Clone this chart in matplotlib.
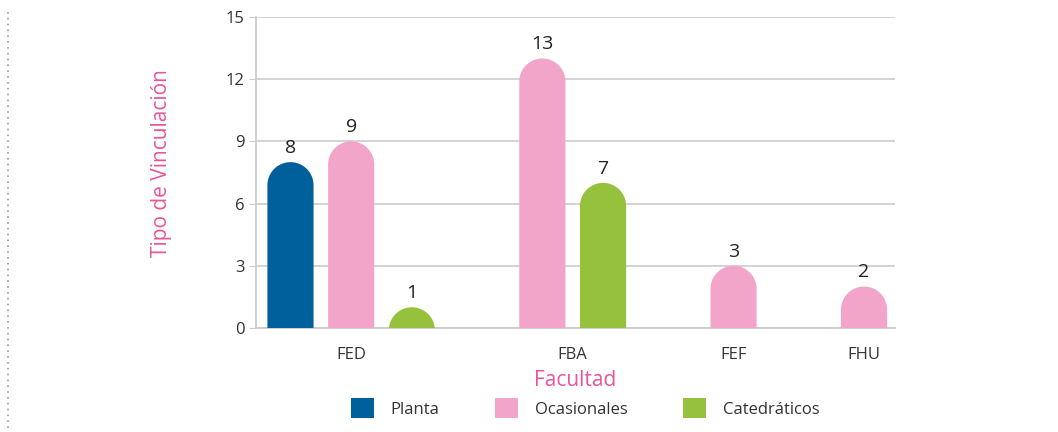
import matplotlib
matplotlib.use('Agg')
import matplotlib.pyplot as plt
import numpy as np
from matplotlib.patches import PathPatch, Patch
from matplotlib.path import Path
from matplotlib.lines import Line2D

plt.rcParams['font.family'] = ['Open Sans', 'DejaVu Sans']

categories = ['FED', 'FBA', 'FEF', 'FHU']
series = ['Planta', 'Ocasionales', 'Catedráticos']
planta = [8, 0, 0, 0]
ocasionales = [9, 13, 3, 2]
catedraticos = [1, 7, 0, 0]
colors = ['#00609c', '#f3a5c9', '#96c13d']
yticks = [0, 3, 6, 9, 12, 15]

values = [planta, ocasionales, catedraticos]

W, H = 1058, 432
fig = plt.figure(figsize=(W / 100, H / 100), dpi=100)
ax = fig.add_axes([256 / W, 1 - 328 / H, (895 - 256) / W, (328 - 17) / H])

# bars only for non-zero values; 1 slot between bars in a group, wider gap between groups
group_gap = 2.15
bar_w = 0.76
pos = 0.0
bars = []
centers = []
for ci, cat in enumerate(categories):
    xs = []
    for si in range(len(series)):
        v = values[si][ci]
        if v == 0:
            continue
        if bars or xs:
            pos += 1.0 if xs else group_gap
        xs.append(pos)
        bars.append((pos, v, colors[si]))
    centers.append(sum(xs) / len(xs))

ax.set_xlim(-0.568, 9.96)
ax.set_ylim(0, 15)

# radius of rounded cap in data units (half bar width in pixels)
px_per_x = (895 - 256) / (9.96 + 0.568)
px_per_y = (328 - 17) / 15
r_px = bar_w / 2 * px_per_x
ry = r_px / px_per_y


def rounded_bar(x, v):
    rx = bar_w / 2
    t = np.linspace(np.pi, 0, 40)
    arc = np.column_stack([x + rx * np.cos(t), v - ry + ry * np.sin(t)])
    low = min(0, v - ry)
    pts = np.vstack([[x - rx, low], arc, [x + rx, low], [x - rx, low]])
    codes = [Path.MOVETO] + [Path.LINETO] * (len(pts) - 2) + [Path.CLOSEPOLY]
    return Path(pts, codes)


for x, v, c in bars:
    ax.add_patch(PathPatch(rounded_bar(x, v), facecolor=c, edgecolor='none', zorder=3))
    ax.text(x, v + 0.25, str(v), ha='center', va='bottom', fontsize=14, color='#222222', zorder=4)

ax.set_yticks(yticks)
ax.set_xticks(centers)
ax.set_xticklabels(categories)
ax.tick_params(axis='y', length=5, color='#cccccc', labelsize=12, labelcolor='#333333', pad=3)
ax.tick_params(axis='x', length=0, labelsize=12, labelcolor='#333333', pad=14)
ax.grid(axis='y', color='#d0d0d0', lw=1.3, zorder=0)
for s in ['top', 'right']:
    ax.spines[s].set_visible(False)
for s in ['left', 'bottom']:
    ax.spines[s].set_color('#cccccc')
    ax.spines[s].set_linewidth(1.3)

ax.set_xlabel('Facultad', fontsize=15, color='#e8559a', labelpad=5)
ax.set_ylabel('Tipo de Vinculación', fontsize=15, color='#e8559a')
ax.yaxis.set_label_coords(-0.131, 0.53)

handles = [Patch(facecolor=c, edgecolor='none') for c in colors]
fig.legend(handles, series, loc='center', bbox_to_anchor=(585 / W, 1 - 408 / H), ncol=3,
           frameon=False, fontsize=12, handlelength=1.4, handleheight=1.4,
           handletextpad=1.0, columnspacing=3.3, labelcolor='#333333')

fig.add_artist(Line2D([8 / W, 8 / W], [1 - 12 / H, 1 - 430 / H], transform=fig.transFigure,
                      color='#999999', lw=1.2, ls=(0, (1, 2.5))))

fig.savefig('out.png', dpi=100)
